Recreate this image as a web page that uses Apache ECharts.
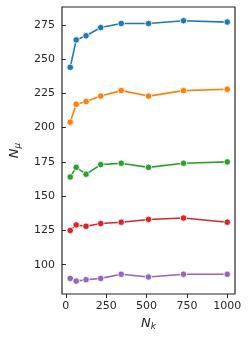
<!DOCTYPE html>
<html><head><meta charset="utf-8">
<script src="https://cdn.jsdelivr.net/npm/echarts@6/dist/echarts.min.js"></script>
<style>html,body{margin:0;padding:0;background:#fff}#c{width:249px;height:339px}</style>
</head><body><div id="c"></div>
<script>
const nk = [27, 64, 125, 216, 343, 512, 729, 1000];
const s1 = [244, 264, 267, 273, 276, 276, 278, 277];
const s2 = [204, 217, 219, 223, 227, 223, 227, 228];
const s3 = [164, 171, 166, 173, 174, 171, 174, 175];
const s4 = [125, 129, 128, 130, 131, 133, 134, 131];
const s5 = [90, 88, 89, 90, 93, 91, 93, 93];
const xTicks = [0, 250, 500, 750, 1000];
const yTicks = [100, 125, 150, 175, 200, 225, 250, 275];
const colors = ['#1f77b4', '#ff7f0e', '#2ca02c', '#d62728', '#9467bd'];
const all = [s1, s2, s3, s4, s5];
const chart = echarts.init(document.getElementById('c'), null, {renderer: 'canvas'});
const tickFont = {fontFamily: 'DejaVu Sans', fontSize: 11, color: '#262626', formatter: v => String(v)};
const nameRich = {i: {fontFamily: 'DejaVu Sans', fontStyle: 'italic', fontSize: 13, color: '#262626'}, s: {fontFamily: 'DejaVu Sans', fontStyle: 'italic', fontSize: 9, color: '#262626', verticalAlign: 'bottom', padding: [6, 0, 0, 0]}};
chart.setOption({
  animation: false,
  grid: {left: 56, right: 14, top: 7, bottom: 45, show: true, borderColor: '#262626', borderWidth: 1.2, backgroundColor: 'transparent'},
  xAxis: {
    type: 'value', min: -24, max: 1048,
    name: '{i|N}{s|k}', nameLocation: 'middle', nameGap: 22,
    nameTextStyle: {rich: nameRich},
    axisLine: {show: false},
    axisTick: {show: true, customValues: xTicks, length: 4, lineStyle: {color: '#262626', width: 1}},
    axisLabel: Object.assign({customValues: xTicks, margin: 7}, tickFont),
    splitLine: {show: false}
  },
  yAxis: {
    type: 'value', min: 78.6, max: 288,
    name: '{i|N}{s|μ}', nameLocation: 'middle', nameGap: 40, nameRotate: 90,
    nameTextStyle: {rich: nameRich},
    axisLine: {show: false},
    axisTick: {show: true, customValues: yTicks, length: 4, lineStyle: {color: '#262626', width: 1}},
    axisLabel: Object.assign({customValues: yTicks, margin: 7}, tickFont),
    splitLine: {show: false}
  },
  series: all.map((s, i) => ({
    type: 'line',
    data: nk.map((x, j) => [x, s[j]]),
    symbol: 'circle', symbolSize: 6.5,
    lineStyle: {color: colors[i], width: 1.6},
    itemStyle: {color: colors[i], borderColor: '#fff', borderWidth: 0.8},
    z: 10 - i
  }))
});
</script></body></html>
